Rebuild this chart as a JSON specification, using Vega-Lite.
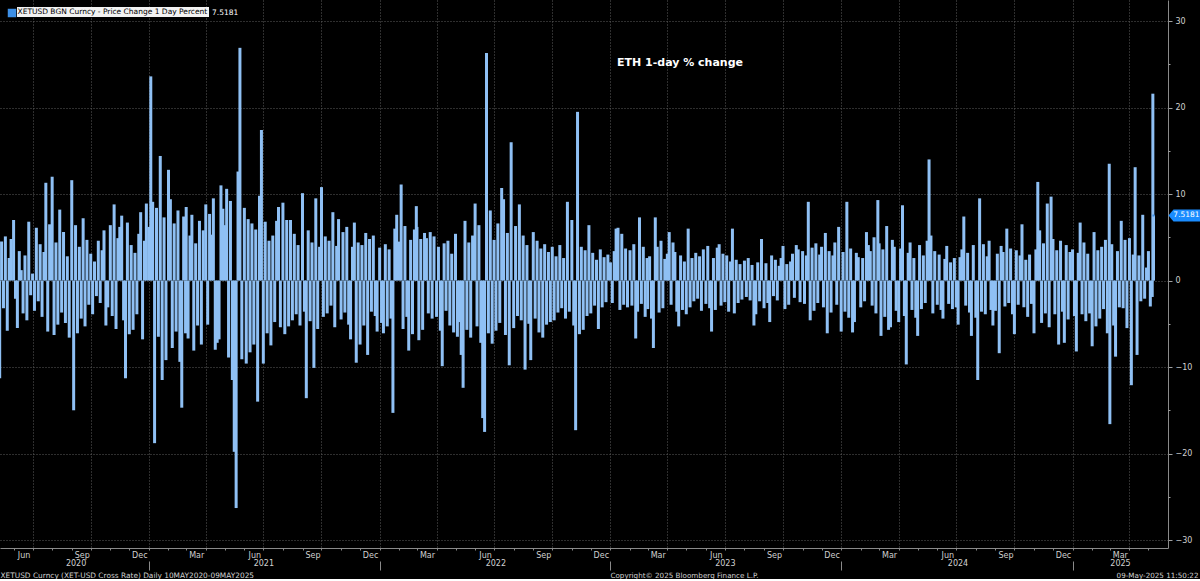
{
"$schema":"https://vega.github.io/schema/vega-lite/v6.json",
"width":1168,"height":548,"padding":0,"autosize":{"type":"pad"},
"background":"#000000",
"config":{"font":"DejaVu Sans","view":{"stroke":null}},
"title":{"text":"ETH 1-day % change","color":"#ffffff","fontSize":11,"fontWeight":"bold","anchor":"middle","frame":"group","dx":96,"offset":-68},
"data":{"values":[
{"d":"2020-05-10","v":-11.3},{"d":"2020-05-13","v":4.5},{"d":"2020-05-16","v":-3.2},{"d":"2020-05-19","v":5.1},{"d":"2020-05-22","v":-5.8},{"d":"2020-05-25","v":2.6},{"d":"2020-05-28","v":4.8},
{"d":"2020-06-01","v":7.0},{"d":"2020-06-04","v":-2.1},{"d":"2020-06-07","v":-5.5},{"d":"2020-06-10","v":3.4},{"d":"2020-06-13","v":1.2},{"d":"2020-06-16","v":-3.8},{"d":"2020-06-19","v":2.9},{"d":"2020-06-22","v":-4.6},{"d":"2020-06-25","v":6.8},{"d":"2020-06-28","v":-1.7},
{"d":"2020-07-01","v":0.8},{"d":"2020-07-04","v":-3.5},{"d":"2020-07-07","v":6.1},{"d":"2020-07-10","v":-2.4},{"d":"2020-07-13","v":4.2},{"d":"2020-07-16","v":-4.2},{"d":"2020-07-19","v":3.3},{"d":"2020-07-22","v":11.3},{"d":"2020-07-25","v":-5.9},{"d":"2020-07-28","v":6.5},
{"d":"2020-08-01","v":12.0},{"d":"2020-08-04","v":-6.3},{"d":"2020-08-07","v":4.4},{"d":"2020-08-10","v":-5.1},{"d":"2020-08-13","v":8.2},{"d":"2020-08-16","v":-3.7},{"d":"2020-08-19","v":5.6},{"d":"2020-08-22","v":-4.9},{"d":"2020-08-25","v":2.8},{"d":"2020-08-28","v":-6.6},
{"d":"2020-09-01","v":11.6},{"d":"2020-09-04","v":-15.0},{"d":"2020-09-07","v":6.4},{"d":"2020-09-10","v":-6.1},{"d":"2020-09-13","v":3.9},{"d":"2020-09-16","v":-4.4},{"d":"2020-09-19","v":7.2},{"d":"2020-09-22","v":-5.3},{"d":"2020-09-25","v":4.7},{"d":"2020-09-28","v":-2.8},
{"d":"2020-10-01","v":3.1},{"d":"2020-10-04","v":-3.9},{"d":"2020-10-07","v":2.2},{"d":"2020-10-10","v":-1.8},{"d":"2020-10-13","v":4.6},{"d":"2020-10-16","v":-2.6},{"d":"2020-10-19","v":3.5},{"d":"2020-10-22","v":5.8},{"d":"2020-10-25","v":-5.2},{"d":"2020-10-28","v":-3.1},
{"d":"2020-11-01","v":6.4},{"d":"2020-11-04","v":-4.1},{"d":"2020-11-07","v":8.8},{"d":"2020-11-10","v":-5.6},{"d":"2020-11-13","v":4.9},{"d":"2020-11-16","v":6.2},{"d":"2020-11-19","v":7.5},{"d":"2020-11-22","v":-4.6},{"d":"2020-11-25","v":-11.3},{"d":"2020-11-28","v":6.7},
{"d":"2020-12-01","v":-6.2},{"d":"2020-12-04","v":4.1},{"d":"2020-12-07","v":-5.7},{"d":"2020-12-10","v":3.2},{"d":"2020-12-13","v":-3.9},{"d":"2020-12-16","v":5.4},{"d":"2020-12-19","v":7.9},{"d":"2020-12-22","v":-6.8},{"d":"2020-12-25","v":4.6},{"d":"2020-12-28","v":8.9},
{"d":"2021-01-01","v":6.2},{"d":"2021-01-04","v":23.6},{"d":"2021-01-07","v":9.1},{"d":"2021-01-10","v":-18.8},{"d":"2021-01-13","v":8.4},{"d":"2021-01-16","v":-6.5},{"d":"2021-01-19","v":14.4},{"d":"2021-01-22","v":-11.5},{"d":"2021-01-25","v":7.3},{"d":"2021-01-28","v":-9.2},
{"d":"2021-02-01","v":12.8},{"d":"2021-02-04","v":9.4},{"d":"2021-02-07","v":-7.8},{"d":"2021-02-10","v":6.6},{"d":"2021-02-13","v":-5.9},{"d":"2021-02-16","v":8.1},{"d":"2021-02-19","v":-9.4},{"d":"2021-02-22","v":-14.7},{"d":"2021-02-25","v":7.4},{"d":"2021-02-28","v":-6.1},
{"d":"2021-03-01","v":8.5},{"d":"2021-03-04","v":-6.7},{"d":"2021-03-07","v":5.2},{"d":"2021-03-10","v":7.6},{"d":"2021-03-13","v":-8.1},{"d":"2021-03-16","v":4.3},{"d":"2021-03-19","v":-5.2},{"d":"2021-03-22","v":6.9},{"d":"2021-03-25","v":-7.4},{"d":"2021-03-28","v":5.8},
{"d":"2021-04-01","v":8.8},{"d":"2021-04-04","v":-5.1},{"d":"2021-04-07","v":7.7},{"d":"2021-04-10","v":5.3},{"d":"2021-04-13","v":9.5},{"d":"2021-04-16","v":-8.0},{"d":"2021-04-19","v":-7.2},{"d":"2021-04-22","v":-6.8},{"d":"2021-04-25","v":11.0},{"d":"2021-04-28","v":8.3},
{"d":"2021-05-01","v":6.4},{"d":"2021-05-04","v":10.6},{"d":"2021-05-07","v":-8.9},{"d":"2021-05-10","v":9.2},{"d":"2021-05-13","v":-11.5},{"d":"2021-05-16","v":-19.8},{"d":"2021-05-19","v":-26.3},{"d":"2021-05-22","v":12.6},{"d":"2021-05-25","v":26.9},{"d":"2021-05-28","v":-9.1},
{"d":"2021-06-01","v":8.4},{"d":"2021-06-04","v":-9.6},{"d":"2021-06-07","v":7.1},{"d":"2021-06-10","v":-8.3},{"d":"2021-06-13","v":6.6},{"d":"2021-06-16","v":-7.4},{"d":"2021-06-19","v":5.9},{"d":"2021-06-22","v":-14.0},{"d":"2021-06-25","v":9.8},{"d":"2021-06-28","v":17.4},
{"d":"2021-07-01","v":-9.6},{"d":"2021-07-04","v":6.8},{"d":"2021-07-07","v":-6.1},{"d":"2021-07-10","v":4.6},{"d":"2021-07-13","v":-7.5},{"d":"2021-07-16","v":5.2},{"d":"2021-07-19","v":-4.8},{"d":"2021-07-22","v":6.9},{"d":"2021-07-25","v":8.5},{"d":"2021-07-28","v":-5.4},
{"d":"2021-08-01","v":9.0},{"d":"2021-08-04","v":-6.2},{"d":"2021-08-07","v":7.0},{"d":"2021-08-10","v":-5.3},{"d":"2021-08-13","v":7.0},{"d":"2021-08-16","v":-4.6},{"d":"2021-08-19","v":5.4},{"d":"2021-08-22","v":-3.9},{"d":"2021-08-25","v":4.1},{"d":"2021-08-28","v":-5.2},
{"d":"2021-09-01","v":10.1},{"d":"2021-09-04","v":-3.6},{"d":"2021-09-07","v":-13.6},{"d":"2021-09-10","v":5.8},{"d":"2021-09-13","v":-4.7},{"d":"2021-09-16","v":4.4},{"d":"2021-09-19","v":-10.1},{"d":"2021-09-22","v":9.5},{"d":"2021-09-25","v":-5.6},{"d":"2021-09-28","v":3.9},
{"d":"2021-10-01","v":10.8},{"d":"2021-10-04","v":-4.2},{"d":"2021-10-07","v":5.1},{"d":"2021-10-10","v":-3.8},{"d":"2021-10-13","v":4.6},{"d":"2021-10-16","v":-2.9},{"d":"2021-10-19","v":7.9},{"d":"2021-10-22","v":-5.4},{"d":"2021-10-25","v":4.0},{"d":"2021-10-28","v":7.1},
{"d":"2021-11-01","v":-4.5},{"d":"2021-11-04","v":5.6},{"d":"2021-11-07","v":-3.7},{"d":"2021-11-10","v":6.2},{"d":"2021-11-13","v":-5.1},{"d":"2021-11-16","v":-6.8},{"d":"2021-11-19","v":3.9},{"d":"2021-11-22","v":6.7},{"d":"2021-11-25","v":-9.5},{"d":"2021-11-28","v":4.4},
{"d":"2021-12-01","v":-7.4},{"d":"2021-12-04","v":4.1},{"d":"2021-12-07","v":-5.2},{"d":"2021-12-10","v":5.5},{"d":"2021-12-13","v":-8.6},{"d":"2021-12-16","v":4.8},{"d":"2021-12-19","v":-3.6},{"d":"2021-12-22","v":5.2},{"d":"2021-12-25","v":-4.1},{"d":"2021-12-28","v":-5.9},
{"d":"2022-01-01","v":3.8},{"d":"2022-01-04","v":-4.9},{"d":"2022-01-07","v":-6.1},{"d":"2022-01-10","v":4.2},{"d":"2022-01-13","v":-5.3},{"d":"2022-01-16","v":3.6},{"d":"2022-01-19","v":-4.4},{"d":"2022-01-22","v":-15.3},{"d":"2022-01-25","v":6.0},{"d":"2022-01-28","v":7.6},
{"d":"2022-02-01","v":4.5},{"d":"2022-02-04","v":11.1},{"d":"2022-02-07","v":-5.6},{"d":"2022-02-10","v":6.3},{"d":"2022-02-13","v":-4.2},{"d":"2022-02-16","v":-8.1},{"d":"2022-02-19","v":4.7},{"d":"2022-02-22","v":-6.2},{"d":"2022-02-25","v":5.9},{"d":"2022-02-28","v":8.6},
{"d":"2022-03-01","v":6.2},{"d":"2022-03-04","v":-6.9},{"d":"2022-03-07","v":4.8},{"d":"2022-03-10","v":-5.7},{"d":"2022-03-13","v":5.5},{"d":"2022-03-16","v":4.9},{"d":"2022-03-19","v":-3.8},{"d":"2022-03-22","v":5.6},{"d":"2022-03-25","v":-4.4},{"d":"2022-03-28","v":5.1},
{"d":"2022-04-01","v":-4.2},{"d":"2022-04-04","v":3.9},{"d":"2022-04-07","v":-5.8},{"d":"2022-04-10","v":-9.9},{"d":"2022-04-13","v":4.3},{"d":"2022-04-16","v":-3.5},{"d":"2022-04-19","v":4.6},{"d":"2022-04-22","v":-5.2},{"d":"2022-04-25","v":3.1},{"d":"2022-04-28","v":-6.0},
{"d":"2022-05-01","v":5.4},{"d":"2022-05-04","v":-6.5},{"d":"2022-05-07","v":-4.8},{"d":"2022-05-10","v":-8.6},{"d":"2022-05-13","v":-12.4},{"d":"2022-05-16","v":6.9},{"d":"2022-05-19","v":-5.7},{"d":"2022-05-22","v":4.4},{"d":"2022-05-25","v":-6.6},{"d":"2022-05-28","v":5.2},
{"d":"2022-06-01","v":8.9},{"d":"2022-06-04","v":-5.3},{"d":"2022-06-07","v":6.4},{"d":"2022-06-10","v":-7.2},{"d":"2022-06-13","v":-15.9},{"d":"2022-06-16","v":-17.5},{"d":"2022-06-19","v":26.3},{"d":"2022-06-22","v":-6.1},{"d":"2022-06-25","v":8.1},{"d":"2022-06-28","v":-7.3},
{"d":"2022-07-01","v":4.7},{"d":"2022-07-04","v":-5.8},{"d":"2022-07-07","v":6.6},{"d":"2022-07-10","v":-4.9},{"d":"2022-07-13","v":10.7},{"d":"2022-07-16","v":9.4},{"d":"2022-07-19","v":-6.3},{"d":"2022-07-22","v":5.5},{"d":"2022-07-25","v":-9.8},{"d":"2022-07-28","v":16.0},
{"d":"2022-08-01","v":-5.5},{"d":"2022-08-04","v":6.3},{"d":"2022-08-07","v":-4.1},{"d":"2022-08-10","v":8.8},{"d":"2022-08-13","v":-4.6},{"d":"2022-08-16","v":5.2},{"d":"2022-08-19","v":-10.3},{"d":"2022-08-22","v":4.1},{"d":"2022-08-25","v":-5.0},{"d":"2022-08-28","v":-9.2},
{"d":"2022-09-01","v":5.6},{"d":"2022-09-04","v":-4.4},{"d":"2022-09-07","v":4.6},{"d":"2022-09-10","v":-6.0},{"d":"2022-09-13","v":3.7},{"d":"2022-09-16","v":-6.6},{"d":"2022-09-19","v":4.2},{"d":"2022-09-22","v":-5.1},{"d":"2022-09-25","v":3.3},{"d":"2022-09-28","v":-4.8},
{"d":"2022-10-01","v":3.9},{"d":"2022-10-04","v":-4.6},{"d":"2022-10-07","v":2.8},{"d":"2022-10-10","v":-3.7},{"d":"2022-10-13","v":4.1},{"d":"2022-10-16","v":-3.2},{"d":"2022-10-19","v":2.6},{"d":"2022-10-22","v":-4.4},{"d":"2022-10-25","v":9.1},{"d":"2022-10-28","v":-3.6},
{"d":"2022-11-01","v":7.0},{"d":"2022-11-04","v":-5.2},{"d":"2022-11-07","v":-17.3},{"d":"2022-11-10","v":19.5},{"d":"2022-11-13","v":-6.2},{"d":"2022-11-16","v":3.9},{"d":"2022-11-19","v":-5.7},{"d":"2022-11-22","v":3.5},{"d":"2022-11-25","v":-4.1},{"d":"2022-11-28","v":6.4},
{"d":"2022-12-01","v":-3.8},{"d":"2022-12-04","v":3.2},{"d":"2022-12-07","v":-2.9},{"d":"2022-12-10","v":2.4},{"d":"2022-12-13","v":-5.6},{"d":"2022-12-16","v":3.6},{"d":"2022-12-19","v":-3.1},{"d":"2022-12-22","v":2.7},{"d":"2022-12-25","v":-2.5},{"d":"2022-12-28","v":3.0},
{"d":"2023-01-01","v":2.1},{"d":"2023-01-04","v":-2.6},{"d":"2023-01-07","v":3.4},{"d":"2023-01-10","v":6.0},{"d":"2023-01-13","v":6.1},{"d":"2023-01-16","v":-3.4},{"d":"2023-01-19","v":5.4},{"d":"2023-01-22","v":-2.8},{"d":"2023-01-25","v":3.7},{"d":"2023-01-28","v":-3.1},
{"d":"2023-02-01","v":3.5},{"d":"2023-02-04","v":-2.9},{"d":"2023-02-07","v":4.2},{"d":"2023-02-10","v":-6.7},{"d":"2023-02-13","v":-3.6},{"d":"2023-02-16","v":7.3},{"d":"2023-02-19","v":-2.7},{"d":"2023-02-22","v":3.9},{"d":"2023-02-25","v":-4.2},{"d":"2023-02-28","v":2.6},
{"d":"2023-03-01","v":-3.3},{"d":"2023-03-04","v":2.8},{"d":"2023-03-07","v":-4.4},{"d":"2023-03-10","v":-7.8},{"d":"2023-03-13","v":7.3},{"d":"2023-03-16","v":3.9},{"d":"2023-03-19","v":-3.7},{"d":"2023-03-22","v":4.6},{"d":"2023-03-25","v":-3.2},{"d":"2023-03-28","v":2.5},
{"d":"2023-04-01","v":3.1},{"d":"2023-04-04","v":5.6},{"d":"2023-04-07","v":-2.8},{"d":"2023-04-10","v":4.4},{"d":"2023-04-13","v":3.3},{"d":"2023-04-16","v":-3.6},{"d":"2023-04-19","v":-5.3},{"d":"2023-04-22","v":2.9},{"d":"2023-04-25","v":-3.4},{"d":"2023-04-28","v":2.2},
{"d":"2023-05-01","v":-3.9},{"d":"2023-05-04","v":6.0},{"d":"2023-05-07","v":-3.1},{"d":"2023-05-10","v":2.6},{"d":"2023-05-13","v":-2.4},{"d":"2023-05-16","v":3.2},{"d":"2023-05-19","v":-2.1},{"d":"2023-05-22","v":2.8},{"d":"2023-05-25","v":-3.5},{"d":"2023-05-28","v":3.6},
{"d":"2023-06-01","v":-2.7},{"d":"2023-06-04","v":4.0},{"d":"2023-06-07","v":-3.2},{"d":"2023-06-10","v":-5.9},{"d":"2023-06-13","v":2.6},{"d":"2023-06-16","v":-3.4},{"d":"2023-06-19","v":3.8},{"d":"2023-06-22","v":4.2},{"d":"2023-06-25","v":-2.9},{"d":"2023-06-28","v":3.1},
{"d":"2023-07-01","v":-2.5},{"d":"2023-07-04","v":2.9},{"d":"2023-07-07","v":-3.6},{"d":"2023-07-10","v":2.2},{"d":"2023-07-13","v":6.0},{"d":"2023-07-16","v":-3.8},{"d":"2023-07-19","v":2.4},{"d":"2023-07-22","v":-2.6},{"d":"2023-07-25","v":1.9},{"d":"2023-07-28","v":-2.2},
{"d":"2023-08-01","v":2.3},{"d":"2023-08-04","v":-1.9},{"d":"2023-08-07","v":2.6},{"d":"2023-08-10","v":-2.3},{"d":"2023-08-13","v":1.8},{"d":"2023-08-16","v":-5.2},{"d":"2023-08-19","v":-3.9},{"d":"2023-08-22","v":2.1},{"d":"2023-08-25","v":-2.4},{"d":"2023-08-28","v":4.8},
{"d":"2023-09-01","v":-3.2},{"d":"2023-09-04","v":2.0},{"d":"2023-09-07","v":-2.6},{"d":"2023-09-10","v":-4.8},{"d":"2023-09-13","v":2.9},{"d":"2023-09-16","v":-1.8},{"d":"2023-09-19","v":2.4},{"d":"2023-09-22","v":-2.3},{"d":"2023-09-25","v":1.7},{"d":"2023-09-28","v":2.6},
{"d":"2023-10-01","v":4.0},{"d":"2023-10-04","v":-3.3},{"d":"2023-10-07","v":1.9},{"d":"2023-10-10","v":-2.8},{"d":"2023-10-13","v":2.2},{"d":"2023-10-16","v":3.1},{"d":"2023-10-19","v":-2.0},{"d":"2023-10-22","v":4.1},{"d":"2023-10-25","v":3.6},{"d":"2023-10-28","v":-2.5},
{"d":"2023-11-01","v":3.4},{"d":"2023-11-04","v":-2.7},{"d":"2023-11-07","v":2.9},{"d":"2023-11-10","v":9.1},{"d":"2023-11-13","v":-4.6},{"d":"2023-11-16","v":3.8},{"d":"2023-11-19","v":-3.5},{"d":"2023-11-22","v":4.3},{"d":"2023-11-25","v":-2.6},{"d":"2023-11-28","v":3.0},
{"d":"2023-12-01","v":3.9},{"d":"2023-12-04","v":-3.1},{"d":"2023-12-07","v":5.5},{"d":"2023-12-10","v":-6.1},{"d":"2023-12-13","v":3.4},{"d":"2023-12-16","v":-3.7},{"d":"2023-12-19","v":2.9},{"d":"2023-12-22","v":4.4},{"d":"2023-12-25","v":-2.8},{"d":"2023-12-28","v":6.2},
{"d":"2024-01-01","v":-5.9},{"d":"2024-01-04","v":3.3},{"d":"2024-01-07","v":-3.6},{"d":"2024-01-10","v":9.1},{"d":"2024-01-13","v":-4.3},{"d":"2024-01-16","v":3.7},{"d":"2024-01-19","v":-6.0},{"d":"2024-01-22","v":-4.8},{"d":"2024-01-25","v":3.2},{"d":"2024-01-28","v":2.7},
{"d":"2024-02-01","v":-3.1},{"d":"2024-02-04","v":2.6},{"d":"2024-02-07","v":-2.4},{"d":"2024-02-10","v":5.6},{"d":"2024-02-13","v":4.1},{"d":"2024-02-16","v":3.4},{"d":"2024-02-19","v":-2.9},{"d":"2024-02-22","v":5.0},{"d":"2024-02-25","v":-3.8},{"d":"2024-02-28","v":9.3},
{"d":"2024-03-01","v":4.3},{"d":"2024-03-04","v":-6.4},{"d":"2024-03-07","v":3.6},{"d":"2024-03-10","v":-4.2},{"d":"2024-03-13","v":6.3},{"d":"2024-03-16","v":-5.7},{"d":"2024-03-19","v":-5.4},{"d":"2024-03-22","v":4.7},{"d":"2024-03-25","v":3.9},{"d":"2024-03-28","v":-3.5},
{"d":"2024-04-01","v":-4.8},{"d":"2024-04-04","v":3.7},{"d":"2024-04-07","v":8.7},{"d":"2024-04-10","v":-4.1},{"d":"2024-04-13","v":-9.7},{"d":"2024-04-16","v":3.2},{"d":"2024-04-19","v":4.4},{"d":"2024-04-22","v":-3.4},{"d":"2024-04-25","v":2.6},{"d":"2024-04-28","v":-4.3},
{"d":"2024-05-01","v":-6.4},{"d":"2024-05-04","v":4.1},{"d":"2024-05-07","v":-3.3},{"d":"2024-05-10","v":2.9},{"d":"2024-05-13","v":-2.6},{"d":"2024-05-16","v":4.6},{"d":"2024-05-19","v":14.0},{"d":"2024-05-22","v":5.2},{"d":"2024-05-25","v":-3.8},{"d":"2024-05-28","v":3.4},
{"d":"2024-06-01","v":-2.8},{"d":"2024-06-04","v":3.0},{"d":"2024-06-07","v":-3.4},{"d":"2024-06-10","v":-4.4},{"d":"2024-06-13","v":2.5},{"d":"2024-06-16","v":4.0},{"d":"2024-06-19","v":-2.7},{"d":"2024-06-22","v":2.1},{"d":"2024-06-25","v":-3.3},{"d":"2024-06-28","v":2.6},
{"d":"2024-07-01","v":-3.1},{"d":"2024-07-04","v":-5.1},{"d":"2024-07-07","v":2.7},{"d":"2024-07-10","v":3.6},{"d":"2024-07-13","v":7.4},{"d":"2024-07-16","v":-2.9},{"d":"2024-07-19","v":3.2},{"d":"2024-07-22","v":-3.7},{"d":"2024-07-25","v":-6.4},{"d":"2024-07-28","v":4.1},
{"d":"2024-08-01","v":-4.3},{"d":"2024-08-04","v":-11.5},{"d":"2024-08-07","v":9.5},{"d":"2024-08-10","v":-3.6},{"d":"2024-08-13","v":4.2},{"d":"2024-08-16","v":-3.9},{"d":"2024-08-19","v":2.8},{"d":"2024-08-22","v":4.6},{"d":"2024-08-25","v":-3.4},{"d":"2024-08-28","v":-5.2},
{"d":"2024-09-01","v":-3.5},{"d":"2024-09-04","v":3.1},{"d":"2024-09-07","v":-8.4},{"d":"2024-09-10","v":4.0},{"d":"2024-09-13","v":3.3},{"d":"2024-09-16","v":-3.0},{"d":"2024-09-19","v":6.0},{"d":"2024-09-22","v":-2.6},{"d":"2024-09-25","v":3.7},{"d":"2024-09-28","v":-3.9},
{"d":"2024-10-01","v":-6.2},{"d":"2024-10-04","v":3.5},{"d":"2024-10-07","v":-2.8},{"d":"2024-10-10","v":2.9},{"d":"2024-10-13","v":6.5},{"d":"2024-10-16","v":-3.1},{"d":"2024-10-19","v":2.4},{"d":"2024-10-22","v":-4.2},{"d":"2024-10-25","v":3.0},{"d":"2024-10-28","v":-2.7},
{"d":"2024-11-01","v":-6.1},{"d":"2024-11-04","v":3.6},{"d":"2024-11-07","v":11.4},{"d":"2024-11-10","v":5.8},{"d":"2024-11-13","v":-4.9},{"d":"2024-11-16","v":4.3},{"d":"2024-11-19","v":-3.8},{"d":"2024-11-22","v":8.9},{"d":"2024-11-25","v":-5.4},{"d":"2024-11-28","v":9.7},
{"d":"2024-12-01","v":4.8},{"d":"2024-12-04","v":-3.9},{"d":"2024-12-07","v":3.5},{"d":"2024-12-10","v":-7.4},{"d":"2024-12-13","v":4.6},{"d":"2024-12-16","v":-3.6},{"d":"2024-12-19","v":-7.2},{"d":"2024-12-22","v":4.1},{"d":"2024-12-25","v":-4.5},{"d":"2024-12-28","v":3.3},
{"d":"2025-01-01","v":3.6},{"d":"2025-01-04","v":-4.1},{"d":"2025-01-07","v":-8.2},{"d":"2025-01-10","v":3.2},{"d":"2025-01-13","v":6.7},{"d":"2025-01-16","v":-3.9},{"d":"2025-01-19","v":4.4},{"d":"2025-01-22","v":-4.7},{"d":"2025-01-25","v":3.1},{"d":"2025-01-28","v":-3.8},
{"d":"2025-02-01","v":-7.6},{"d":"2025-02-04","v":5.6},{"d":"2025-02-07","v":-5.3},{"d":"2025-02-10","v":3.5},{"d":"2025-02-13","v":-4.4},{"d":"2025-02-16","v":3.9},{"d":"2025-02-19","v":-3.3},{"d":"2025-02-22","v":4.7},{"d":"2025-02-25","v":-6.1},{"d":"2025-02-28","v":13.5},
{"d":"2025-03-01","v":-16.6},{"d":"2025-03-04","v":4.2},{"d":"2025-03-07","v":-5.2},{"d":"2025-03-10","v":-8.8},{"d":"2025-03-13","v":3.4},{"d":"2025-03-16","v":-3.1},{"d":"2025-03-19","v":6.9},{"d":"2025-03-22","v":-3.2},{"d":"2025-03-25","v":4.7},{"d":"2025-03-28","v":-5.5},
{"d":"2025-04-01","v":4.9},{"d":"2025-04-04","v":-12.1},{"d":"2025-04-07","v":3.0},{"d":"2025-04-10","v":13.1},{"d":"2025-04-13","v":-8.6},{"d":"2025-04-16","v":2.9},{"d":"2025-04-19","v":-2.4},{"d":"2025-04-22","v":7.6},{"d":"2025-04-25","v":-2.1},{"d":"2025-04-28","v":1.5},
{"d":"2025-05-01","v":3.4},{"d":"2025-05-04","v":-3.0},{"d":"2025-05-07","v":-1.9},{"d":"2025-05-08","v":21.6},{"d":"2025-05-09","v":7.5181}
]},
"layer":[
{"mark":{"type":"bar","size":3,"clip":true,"opacity":1},
 "encoding":{
  "x":{"field":"d","type":"temporal","scale":{"domain":[{"year":2020,"month":5,"date":10,"hours":12},{"year":2025,"month":5,"date":31,"hours":23}],"padding":0},
   "axis":{"orient":"bottom","tickCount":{"interval":"month","step":1},"labelExpr":"indexof([2,5,8,11], month(datum.value)) >= 0 ? timeFormat(datum.value, '%b') : ''","labelOffset":10,"labelFlush":false,"labelOverlap":false,"labelBound":false,"labelPadding":1,"labelFontSize":8,"labelColor":"#d0d0d0","tickSize":2,"tickColor":"#8a8a8a","domainColor":"#8a8a8a","grid":false,"title":"XETUSD Curncy (XET-USD Cross Rate)  Daily 10MAY2020-09MAY2025","titleX":0,"titleY":27,"titleAlign":"left","titleBaseline":"middle","titleFontSize":7.4,"titleFontWeight":"normal","titleColor":"#d0d0d0"}},
  "y":{"field":"v","type":"quantitative","scale":{"domain":[-30.92,32.43],"nice":false,"zero":false},
   "axis":{"orient":"right","values":[-30,-20,-10,0,10,20,30],"grid":true,"gridColor":"#5c5c5c","gridDash":[1,2],"tickSize":4,"tickColor":"#a0a0a0","domainColor":"#8a8a8a","labelColor":"#d0d0d0","labelFontSize":8,"labelPadding":3,"title":null}},
  "color":{"datum":"XETUSD BGN Curncy - Price Change 1 Day Percent","scale":{"range":["#8fc0f4"]},
   "legend":{"orient":"none","legendX":17,"legendY":7,"title":null,"fillColor":"#f2f2f2","padding":1,"symbolSize":0,"symbolStrokeWidth":0,"symbolOpacity":0,"labelOffset":-8,"labelColor":"#000000","labelFontSize":7.5,"labelLimit":0}}
 }},
{"transform":[{"filter":"datum.v == 7.5181"}],
 "mark":{"type":"point","shape":"M15,0L20,-6H47V6H20Z","size":4,"filled":true,"color":"#1a8cff","opacity":1,"strokeWidth":0},
 "encoding":{
  "x":{"field":"d","type":"temporal","scale":{"domain":[{"year":2020,"month":5,"date":10,"hours":12},{"year":2025,"month":5,"date":31,"hours":23}],"padding":0},
   "axis":{"orient":"bottom","tickCount":{"interval":"month","step":3},"grid":true,"gridColor":"#5c5c5c","gridDash":[1,2],"ticks":false,"labels":false,"domain":false,"title":"Copyright© 2025 Bloomberg Finance L.P.","titleX":684,"titleY":27,"titleAlign":"center","titleBaseline":"middle","titleFontSize":7.2,"titleFontWeight":"normal","titleColor":"#d0d0d0"}},
  "y":{"field":"v","type":"quantitative","scale":{"domain":[-30.92,32.43],"nice":false,"zero":false},
   "axis":{"orient":"right","values":[-25,-15,-5,5,15,25],"tickSize":2,"tickColor":"#a0a0a0","labels":false,"domain":false,"grid":false,"title":null}}
 }},
{"transform":[{"filter":"datum.v == 7.5181"}],
 "mark":{"type":"text","dx":33,"align":"center","baseline":"middle","color":"#ffffff","fontSize":7.5},
 "encoding":{
  "x":{"field":"d","type":"temporal","scale":{"domain":[{"year":2020,"month":5,"date":10,"hours":12},{"year":2025,"month":5,"date":31,"hours":23}],"padding":0},
   "axis":{"orient":"bottom","offset":13,"values":[{"year":2020,"month":9,"date":7},{"year":2021,"month":1,"date":1},{"year":2021,"month":7,"date":1},{"year":2022,"month":1,"date":1},{"year":2022,"month":7,"date":3},{"year":2023,"month":1,"date":1},{"year":2023,"month":7,"date":1},{"year":2024,"month":1,"date":1},{"year":2024,"month":7,"date":3},{"year":2025,"month":1,"date":1},{"year":2025,"month":3,"date":17}],
    "labelExpr":"month(datum.value) == 0 && date(datum.value) == 1 ? '' : timeFormat(datum.value, '%Y')",
    "tickOpacity":{"condition":{"test":"month(datum.value) == 0 && date(datum.value) == 1","value":1},"value":0},
    "tickSize":9,"tickColor":"#8a8a8a","domain":false,"grid":false,"labelPadding":-11,"labelFontSize":8,"labelColor":"#d0d0d0","labelFlush":false,"labelOverlap":false,"labelBound":false,
    "title":"09-May-2025 11:50:22","titleX":1198,"titleY":14,"titleAlign":"right","titleBaseline":"middle","titleFontSize":7.2,"titleFontWeight":"normal","titleColor":"#d0d0d0"}},
  "y":{"field":"v","type":"quantitative","scale":{"domain":[-30.92,32.43],"nice":false,"zero":false},"axis":null},
  "text":{"field":"v","type":"quantitative","format":".4f"}
 }},
{"transform":[{"filter":"datum.v == 7.5181"}],
 "mark":{"type":"square","size":4,"opacity":1},
 "encoding":{
  "x":{"field":"d","type":"temporal","scale":{"domain":[{"year":2020,"month":5,"date":10,"hours":12},{"year":2025,"month":5,"date":31,"hours":23}],"padding":0},"axis":null},
  "y":{"field":"v","type":"quantitative","scale":{"domain":[-30.92,32.43],"nice":false,"zero":false},"axis":null},
  "fill":{"datum":" ","scale":{"range":["#3d8fe6"]},
   "legend":{"orient":"none","legendX":7,"legendY":8,"title":"7.5181","titleOrient":"right","titlePadding":191,"titleColor":"#ffffff","titleFontSize":7.5,"titleFontWeight":"normal","labelExpr":"''","symbolType":"square","symbolSize":72,"symbolStrokeWidth":0,"padding":0}}
 }}
],
"resolve":{"axis":{"x":"independent","y":"independent"}}
}
